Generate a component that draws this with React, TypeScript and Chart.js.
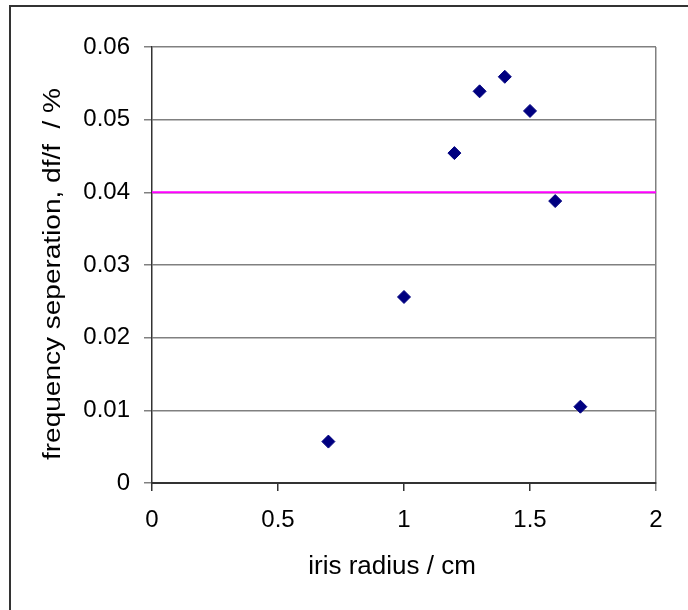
import React, { useEffect, useRef } from "react";
import { Chart, registerables } from "chart.js";

Chart.register(...registerables);

const radiusCm = [0.7, 1.0, 1.2, 1.3, 1.4, 1.5, 1.6, 1.7];
const freqSep = [0.0057, 0.0256, 0.0454, 0.0539, 0.0559, 0.0512, 0.0388, 0.0105];
const thresholdX = [0, 2];
const thresholdY = [0.04, 0.04];
const xTitle = "iris radius / cm";
const yTitle = "frequency seperation, df/f  / %";

const W = 688;
const H = 610;
const LEFT = 152;
const RIGHT = 656;
const TOP = 47;
const BOTTOM = 483;
const FAMILY = "'Liberation Sans', Arial, sans-serif";

const titlesPlugin = {
  id: "excelTitles",
  afterDraw(chart: any) {
    const ctx = chart.ctx as CanvasRenderingContext2D;
    ctx.save();
    ctx.fillStyle = "#000";
    ctx.textAlign = "center";
    ctx.textBaseline = "alphabetic";
    ctx.font = `26px ${FAMILY}`;
    ctx.fillText(xTitle, 392, 574);

    ctx.font = `23px ${FAMILY}`;
    const w = ctx.measureText(yTitle).width;
    const sx = 372 / w;
    ctx.translate(60, 274);
    ctx.rotate(-Math.PI / 2);
    ctx.scale(sx, 1);
    ctx.fillText(yTitle, 0, 0);
    ctx.restore();
  },
};

export default function App() {
  const ref = useRef<HTMLCanvasElement | null>(null);

  useEffect(() => {
    document.body.style.margin = "0";
    document.body.style.background = "#ffffff";
    const canvas = ref.current!;
    const font = { family: FAMILY, size: 24 };
    const chart = new Chart(canvas, {
      type: "scatter",
      data: {
        datasets: [
          {
            label: "threshold",
            type: "line",
            data: thresholdX.map((x, i) => ({ x, y: thresholdY[i] })),
            borderColor: "#ff00ff",
            backgroundColor: "#ff00ff",
            borderWidth: 2,
            pointRadius: 0,
            showLine: true,
          },
          {
            label: "df/f",
            data: radiusCm.map((x, i) => ({ x, y: freqSep[i] })),
            pointStyle: "rectRot",
            pointRadius: 6.5,
            backgroundColor: "#000080",
            borderColor: "#000080",
            borderWidth: 1,
          },
        ],
      },
      options: {
        responsive: false,
        animation: false,
        layout: { padding: { top: TOP, right: W - RIGHT, left: 0, bottom: 0 } },
        plugins: { legend: { display: false }, tooltip: { enabled: false } },
        scales: {
          x: {
            type: "linear",
            min: 0,
            max: 2,
            afterFit: (s: any) => {
              s.height = H - BOTTOM;
            },
            ticks: {
              stepSize: 0.5,
              color: "#000",
              font,
              padding: 15,
              maxRotation: 0,
              callback: (v: any) => String(v),
            },
            grid: {
              color: (c: any) => (c.tick && c.tick.value === 2 ? "#808080" : "rgba(0,0,0,0)"),
              tickColor: (c: any) => (c.tick && c.tick.value === 2 ? "#808080" : "#333333"),
              tickLength: 8,
              lineWidth: 1.5,
            },
            border: { color: "#333333", width: 2 },
            title: { display: false },
          },
          y: {
            min: 0,
            max: 0.06,
            afterFit: (s: any) => {
              s.width = LEFT;
            },
            ticks: {
              stepSize: 0.01,
              color: "#000",
              font,
              padding: 14,
              callback: (v: any) => String(Math.round(v * 100) / 100),
            },
            grid: {
              color: "#808080",
              tickColor: "#808080",
              tickLength: 8,
              lineWidth: 1.5,
            },
            border: { color: "#333333", width: 1.5 },
            title: { display: false },
          },
        },
      },
      plugins: [titlesPlugin],
    });
    return () => chart.destroy();
  }, []);

  return (
    <div style={{ position: "relative", width: W, height: H, overflow: "hidden", background: "#fff" }}>
      <div
        style={{
          position: "absolute",
          left: 9,
          top: 5,
          width: W,
          height: H,
          borderLeft: "2px solid #333",
          borderTop: "2px solid #333",
        }}
      />
      <canvas ref={ref} width={W} height={H} style={{ position: "absolute", left: 0, top: 0 }} />
    </div>
  );
}
